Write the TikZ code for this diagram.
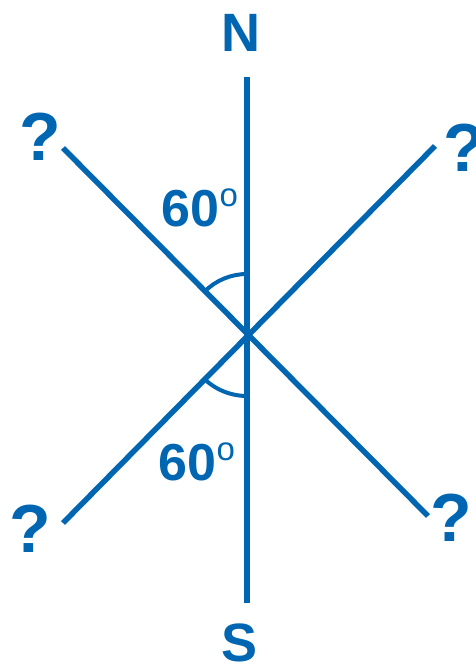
\documentclass[tikz,border=0pt]{standalone}
\usepackage{fontspec}
\setmainfont{Liberation Sans}
\usetikzlibrary{calc}
\definecolor{compassblue}{RGB}{0,102,178}
\newcommand{\degO}{\raisebox{20pt}{\fontsize{33}{33}\selectfont\mdseries o}}
\begin{document}
\begin{tikzpicture}[
  x=1pt, y=1pt,
  ray/.style={line width=5.5pt, compassblue},
  angarc/.style={line width=4pt, compassblue},
  dirlbl/.style={font=\fontsize{54}{60}\selectfont\bfseries, text=compassblue, inner sep=0pt},
  unknown/.style={font=\fontsize{68}{74}\selectfont\bfseries, text=compassblue, inner sep=0pt},
  anglbl/.style={font=\fontsize{52}{58}\selectfont\bfseries, text=compassblue, inner sep=0pt}
]
\useasboundingbox (0,0) rectangle (475,662);

% Centre and line ends
\coordinate (O)  at (247,328);
\coordinate (nT) at (247,585);
\coordinate (sT) at (247,59);
\coordinate (nw) at (63,514);
\coordinate (se) at (428,146);
\coordinate (ne) at (435,516);
\coordinate (sw) at (63,139);

% Lines
\draw[ray] (nT) -- (sT);
\draw[ray] (nw) -- (se);
\draw[ray] (sw) -- (ne);

% Angle arcs
\draw[angarc] ($(O)+(90:60)$) arc[start angle=90, end angle=135, radius=60];
\draw[angarc] ($(O)+(225:62)$) arc[start angle=225, end angle=270, radius=62];

% Labels
\node[dirlbl] (lN) at (241,629) {N};
\node[dirlbl] (lS) at (240,19) {S};
\node[unknown] (qNW) at (40,525) {?};
\node[unknown] (qNE) at (464,514) {?};
\node[unknown] (qSW) at (30,133) {?};
\node[unknown] (qSE) at (451,144) {?};
\node[anglbl] (aTop) at (200,454) {60\degO};
\node[anglbl] (aBot) at (197,200) {60\degO};
\end{tikzpicture}
\end{document}
